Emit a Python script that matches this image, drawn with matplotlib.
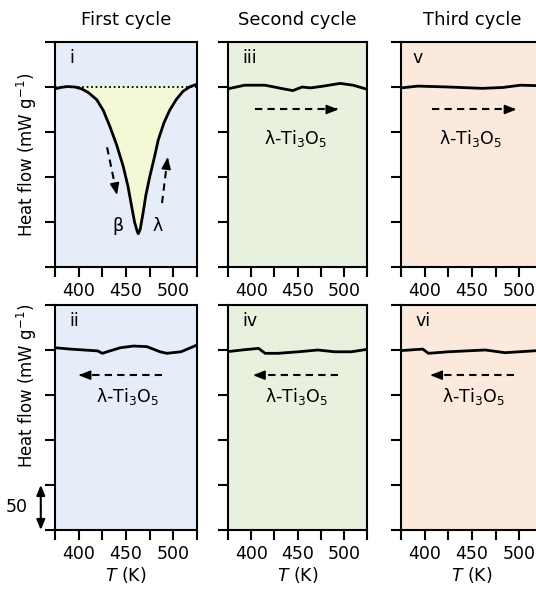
import numpy as np
import matplotlib
matplotlib.use("Agg")
from matplotlib import pyplot as plt

# temperature axis shared by all panels (K)
t_limits = (375, 525)
hf_limits = (-200, 50)

# panel i: first heating, big endothermic dip
t_i = [375, 381, 388, 396, 403, 410, 419, 426, 433, 440, 447, 452, 456, 459, 462, 463,
       465, 468, 471, 475, 480, 484, 490, 496, 503, 510, 517, 522, 525]
hf_i = [-2, -0.5, 0.5, 0, -2, -6, -14, -26, -44, -64, -88, -110, -133, -150, -161, -163,
        -158, -140, -120, -100, -78, -59, -40, -26, -14, -5, 0, 2, 3]

# panel ii: first cooling
t_ii = [375, 391, 420, 425, 430, 444, 458, 472, 486, 493, 508, 525]
hf_ii = [2.5, 1, -1, -3.7, -2, 2.5, 4.4, 3.7, -2, -3.7, -2, 5.5]

# panel iii: second heating
t_iii = [375, 393, 415, 432, 445, 455, 464, 478, 496, 510, 525]
hf_iii = [-2, 2, 2, -1.5, -4, 0, -1, 1, 4, 2, -2.5]

# panel iv: second cooling
t_iv = [375, 390, 408, 415, 429, 451, 472, 490, 508, 525]
hf_iv = [-1.8, 0, 1.8, -3.7, -3.7, -2, 0, -2, -2, 0.7]

# panel v: third heating
t_v = [375, 393, 425, 461, 483, 501, 519, 525]
hf_v = [-1, 1, 0, -1.5, -0.5, 2, 1.5, 1]

# panel vi: third cooling
t_vi = [375, 398, 404, 425, 464, 485, 519, 525]
hf_vi = [-0.7, 1, -3.7, -2, 0, -3, -0.7, -0.5]

titles = ["First cycle", "Second cycle", "Third cycle"]
bg_colors = ["#e4edf8", "#e8f0de", "#fbe9dd"]
fill_color = "#f5f8d6"

fig = plt.figure(figsize=(5.36, 5.89), dpi=100)

col_left = [0.1026, 0.4254, 0.748]
col_width = [0.265, 0.2593, 0.265]
row_bottom = [0.5467, 0.1002]
row_height = 0.382
ylabel_y = [0.5, 0.64]

panels = [
    [(t_i, hf_i, "i"), (t_iii, hf_iii, "iii"), (t_v, hf_v, "v")],
    [(t_ii, hf_ii, "ii"), (t_iv, hf_iv, "iv"), (t_vi, hf_vi, "vi")],
]

# arrows: (tail, tip) in data coords, text position
heat_arrows = [((404, -25), (494, -25)), ((408, -25), (497, -25))]
cool_arrows = [((488, -28), (400, -28)), ((494, -28), (402, -28)), ((494, -28), (406, -28))]
label_x_top = [448, 448]
label_x_bottom = [451, 449, 451]

fs = 12.5


def dashed_arrow(ax, tail, tip):
    ax.plot([tail[0], tip[0]], [tail[1], tip[1]], color="k", lw=1.5,
            ls=(0, (3.5, 2.5)), solid_capstyle="butt")
    ax.annotate("", xy=tip, xytext=(tip[0] - 0.12 * (tip[0] - tail[0]),
                                     tip[1] - 0.12 * (tip[1] - tail[1])),
                arrowprops=dict(arrowstyle="-|>,head_length=0.7,head_width=0.28",
                                color="k", lw=1.2, shrinkA=0, shrinkB=0))


axes = []
for r in range(2):
    for c in range(3):
        t, hf, tag = panels[r][c]
        ax = fig.add_axes([col_left[c], row_bottom[r], col_width[c], row_height])
        axes.append(ax)
        ax.set_facecolor(bg_colors[c])
        ax.plot(t, hf, color="k", lw=2.0, solid_joinstyle="round")
        ax.set_xlim(t_limits)
        ax.set_ylim(hf_limits)
        ax.set_xticks(np.arange(375, 526, 25))
        ax.set_xticklabels(["" if v % 50 else str(v) for v in range(375, 526, 25)])
        ax.set_yticks(np.arange(-200, 51, 50))
        ax.set_yticklabels([])
        ax.tick_params(direction="out", length=7, width=1.5, labelsize=fs, pad=4)
        for s in ax.spines.values():
            s.set_linewidth(1.5)
        ax.text(0.08 if tag == "v" else 0.1, 0.93, tag, transform=ax.transAxes,
                fontsize=fs, ha="left", va="center")
        if r == 0:
            ax.set_title(titles[c], fontsize=13, pad=12)
        else:
            ax.set_xlabel("$T$ (K)", fontsize=fs, labelpad=1)
        if c == 0:
            ax.set_ylabel("Heat flow (mW g$^{-1}$)", fontsize=12)
            ax.yaxis.set_label_coords(-0.11, ylabel_y[r])

# panel i extras
ax = axes[0]
ax.axhline(0, color="k", lw=1.3, ls=(0, (1, 1.5)))
ax.fill_between(t_i, hf_i, 0, where=np.array(hf_i) < 0, color=fill_color,
                interpolate=True, zorder=1)
dashed_arrow(ax, (430, -67), (440.5, -120))
dashed_arrow(ax, (488, -129), (494, -78))
ax.text(441.5, -155, "β", fontsize=fs, ha="center", va="center")
ax.text(483, -155, "λ", fontsize=fs, ha="center", va="center")

# heating arrows, second and third cycle
for i, c in enumerate([1, 2]):
    ax = axes[c]
    dashed_arrow(ax, *heat_arrows[i])
    ax.text(label_x_top[i], -57, "λ-Ti$_3$O$_5$", fontsize=fs, ha="center", va="center")

# cooling arrows
for i, c in enumerate([3, 4, 5]):
    ax = axes[c]
    dashed_arrow(ax, *cool_arrows[i])
    ax.text(label_x_bottom[i], -52, "λ-Ti$_3$O$_5$", fontsize=fs, ha="center", va="center")

# scale bar
ax = axes[3]
ax.annotate("", xy=(-0.1, -200), xytext=(-0.1, -150),
            xycoords=("axes fraction", "data"), textcoords=("axes fraction", "data"),
            arrowprops=dict(arrowstyle="<|-|>,head_length=0.6,head_width=0.25",
                            color="k", lw=1.5, shrinkA=0, shrinkB=0),
            annotation_clip=False)
ax.text(-0.27, -175, "50", transform=ax.get_yaxis_transform(), fontsize=fs,
        ha="center", va="center")

fig.savefig("out.png", dpi=100)
